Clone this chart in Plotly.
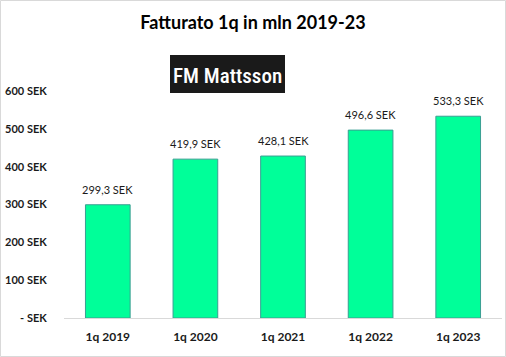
import plotly.graph_objects as go

categories = ["1q 2019", "1q 2020", "1q 2021", "1q 2022", "1q 2023"]
values = [299.3, 419.9, 428.1, 496.6, 533.3]
tick_vals = [0, 100, 200, 300, 400, 500, 600]
tick_text = ["- SEK", "100 SEK", "200 SEK", "300 SEK", "400 SEK", "500 SEK", "600 SEK"]
labels = [f"{v:.1f}".replace(".", ",") + " SEK" for v in values]

W, H = 506, 357
L, R, T, B = 64, 4, 91, 39
pw, ph = W - L - R, H - T - B

def px(x):
    return (x - L) / pw

def py(y):
    return (H - B - y) / ph

fig = go.Figure()
fig.add_trace(go.Bar(
    x=categories, y=values,
    marker=dict(color="#00FF99", line=dict(color="#3A9E92", width=1)),
    width=0.51,
    hoverinfo="skip",
))

annotations = []
for c, v, t in zip(categories, values, labels):
    annotations.append(dict(x=c, y=v, text=t, showarrow=False, yanchor="bottom",
                            yshift=7, font=dict(family="Lato", size=11, color="#1a1a1a")))

annotations.append(dict(xref="paper", yref="paper", x=px(227), y=py(75.5),
                        text="FM Mattsson", showarrow=False,
                        font=dict(family="Roboto Condensed, DejaVu Sans Condensed, Liberation Sans Narrow, Roboto",
                                  size=21, color="white", weight=500),
                        xanchor="center", yanchor="middle"))

shapes = [
    dict(type="rect", xref="paper", yref="paper", x0=px(170), x1=px(285), y0=py(93), y1=py(55),
         fillcolor="#1a1a1a", line=dict(width=0), layer="below"),
    dict(type="rect", xref="paper", yref="paper", x0=px(0.5), x1=px(505.5), y0=py(356.5), y1=py(0.5),
         fillcolor="rgba(0,0,0,0)", line=dict(color="#d9d9d9", width=1)),
]

fig.update_layout(
    width=W, height=H,
    margin=dict(l=L, r=R, t=T, b=B),
    paper_bgcolor="white", plot_bgcolor="white",
    title=dict(text="<b>Fatturato 1q in mln 2019-23</b>", x=0.5, xref="container",
               y=1 - 23 / H, yref="container", xanchor="center", yanchor="middle",
               font=dict(family="Lato", size=18, color="black")),
    xaxis=dict(showline=True, linecolor="#d9d9d9", linewidth=1, showgrid=False,
               ticks="outside", ticklen=8, tickcolor="rgba(0,0,0,0)",
               tickfont=dict(family="Lato", size=12, color="#1a1a1a", weight="bold")),
    yaxis=dict(range=[0, 600], tickvals=tick_vals, ticktext=tick_text, showgrid=False,
               zeroline=False, showline=False, ticks="outside", ticklen=14,
               tickcolor="rgba(0,0,0,0)",
               tickfont=dict(family="Lato", size=11, color="#1a1a1a", weight="bold")),
    annotations=annotations, shapes=shapes, showlegend=False,
)

fig.write_html("out.html")
